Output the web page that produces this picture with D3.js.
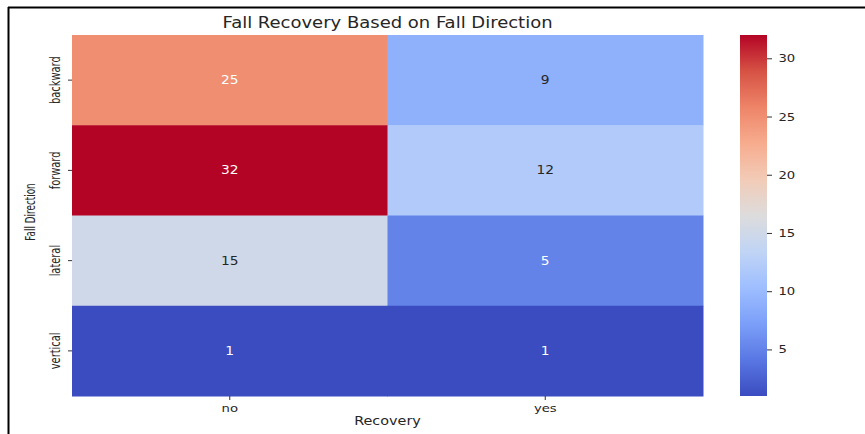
<!DOCTYPE html>
<html><head><meta charset="utf-8">
<script src="https://cdn.jsdelivr.net/npm/d3@7"></script>
<style>body{margin:0;background:#fff}svg{display:block}</style>
</head><body>
<svg id="c" width="865" height="434"></svg>
<script>
const rows = ["backward","forward","lateral","vertical"];
const cols = ["no","yes"];
const values = [
  [25, 9],
  [32, 12],
  [15, 5],
  [1, 1]
];
const cbTicks = [5,10,15,20,25,30];
const vmin = 1, vmax = 32;
const coolwarm = ["#3b4cc0","#5977e3","#7b9ff9","#9ebeff","#c0d4f5","#dddcdc","#f2cbb7","#f7ac8e","#ee8468","#d65244","#b40426"];

const svg = d3.select("#c");
const font = "DejaVu Sans, sans-serif";
const SX = 1.2; // horizontal stretch of the reference
const L = 72, R = 703, T = 35, B = 396;

// border lines
svg.append("line").attr("x1",8).attr("x2",865).attr("y1",7.5).attr("y2",7.5).attr("stroke","#000").attr("stroke-width",2);
svg.append("line").attr("x1",8.5).attr("x2",8.5).attr("y1",7).attr("y2",434).attr("stroke","#000").attr("stroke-width",2);

const x = d3.scaleBand().domain(cols).range([L,R]);
const y = d3.scaleBand().domain(rows).range([T,B]);
const color = d3.scaleLinear()
  .domain(coolwarm.map((c,i)=> vmin + (vmax-vmin)*i/(coolwarm.length-1)))
  .range(coolwarm).interpolate(d3.interpolateRgb).clamp(true);

const cells = [];
rows.forEach((r,i)=>cols.forEach((c,j)=>cells.push({r,c,v:values[i][j]})));

svg.selectAll("rect.cell").data(cells).join("rect").attr("class","cell")
  .attr("x",d=>x(d.c)).attr("y",d=>y(d.r))
  .attr("width",x.bandwidth()+0.5).attr("height",y.bandwidth()+0.5)
  .attr("fill",d=>color(d.v));

function lum(c){
  const rgb = d3.rgb(c);
  const f = v => { v/=255; return v<=0.03928 ? v/12.92 : Math.pow((v+0.055)/1.055,2.4); };
  return 0.2126*f(rgb.r)+0.7152*f(rgb.g)+0.0722*f(rgb.b);
}
svg.selectAll("text.ann").data(cells).join("text").attr("class","ann")
  .attr("transform",d=>`translate(${x(d.c)+x.bandwidth()/2},${y(d.r)+y.bandwidth()/2}) scale(${SX},1)`)
  .attr("text-anchor","middle").attr("dominant-baseline","central")
  .attr("font-family",font).attr("font-size",11.5)
  .attr("fill",d=> lum(color(d.v))>0.408 ? "#262626" : "#ffffff")
  .text(d=>d.v);

// x axis
const xa = svg.append("g").attr("transform",`translate(0,${B})`)
  .call(d3.axisBottom(x).tickSize(4).tickPadding(4));
xa.select(".domain").remove();
xa.selectAll("line").attr("stroke","#333");
xa.selectAll("text").attr("font-family",font).attr("font-size",11).attr("fill","#262626")
  .attr("transform",`scale(${SX},1)`);

// y axis
const ya = svg.append("g").attr("transform",`translate(${L},0)`)
  .call(d3.axisLeft(y).tickSize(4).tickFormat(""));
ya.select(".domain").remove();
ya.selectAll("line").attr("stroke","#333");
rows.forEach(r=>{
  svg.append("text")
    .attr("transform",`translate(60,${y(r)+y.bandwidth()/2}) rotate(-90) scale(0.68,1)`)
    .attr("text-anchor","middle")
    .attr("font-family",font).attr("font-size",14.5).attr("fill","#262626")
    .text(r);
});

// labels
svg.append("text").attr("transform",`translate(${(L+R)/2},28) scale(1.2,1)`).attr("text-anchor","middle")
  .attr("font-family",font).attr("font-size",15).attr("fill","#262626")
  .text("Fall Recovery Based on Fall Direction");
svg.append("text").attr("transform",`translate(${(L+R)/2},425) scale(${SX},1)`).attr("text-anchor","middle")
  .attr("font-family",font).attr("font-size",12).attr("fill","#262626")
  .text("Recovery");
svg.append("text")
  .attr("transform",`translate(35,212) rotate(-90) scale(0.61,1)`)
  .attr("text-anchor","middle")
  .attr("font-family",font).attr("font-size",14.5).attr("fill","#262626")
  .text("Fall Direction");

// colorbar
const cbX = 740, cbW = 27;
const cy = d3.scaleLinear().domain([vmin,vmax]).range([B,T]);
const defs = svg.append("defs");
const grad = defs.append("linearGradient").attr("id","cbg")
  .attr("x1",0).attr("y1",1).attr("x2",0).attr("y2",0);
coolwarm.forEach((c,i)=>grad.append("stop").attr("offset",i/(coolwarm.length-1)).attr("stop-color",c));
svg.append("rect").attr("x",cbX).attr("y",T).attr("width",cbW).attr("height",B-T).attr("fill","url(#cbg)");
const ca = svg.append("g").attr("transform",`translate(${cbX+cbW},0)`)
  .call(d3.axisRight(cy).tickValues(cbTicks).tickSize(5).tickPadding(0));
ca.select(".domain").remove();
ca.selectAll("line").attr("stroke","#333");
ca.selectAll("text").attr("font-family",font).attr("font-size",11).attr("fill","#262626")
  .attr("x",9.5).attr("transform",`scale(${SX},1)`);
</script>
</body></html>
